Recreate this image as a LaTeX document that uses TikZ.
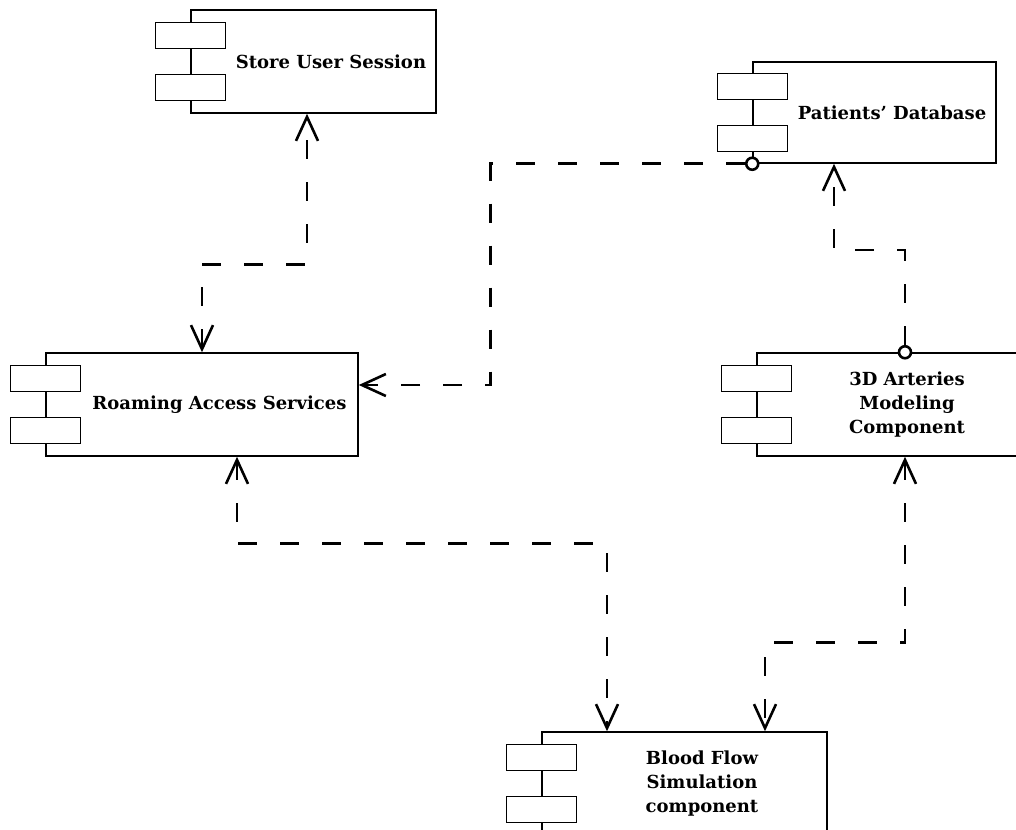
\documentclass[tikz,border=0pt]{standalone}
\usepackage{fontspec}
\setmainfont{DejaVu Serif}
\usepackage{tikz}
\usetikzlibrary{arrows.meta,calc}
\tikzset{comp/.style={draw,line width=1.5pt,fill=white,minimum height=103pt,inner sep=0pt},
tab/.style={draw,line width=1.5pt,fill=white,minimum width=70pt,minimum height=26pt,inner sep=0pt},
port/.style={draw,circle,line width=2.6pt,fill=white,minimum size=12pt,inner sep=0pt},
ctext/.style={font=\bfseries\fontsize{18}{24}\selectfont,align=center}}

\begin{document}
\begin{tikzpicture}[x=1pt,y=-1pt,>={Straight Barb[length=24pt,width=22pt]},dep/.style={dash pattern=on 19pt off 23pt,line width=2.6pt}]
			\useasboundingbox (0,0) rectangle (1016,829);
			\clip (0,0) rectangle (1016,829);

			\node[comp,minimum width=245pt] (store) at (313.5,61.5) {};
			\node[tab] (store t1) at ([yshift=26pt]store.west) {};
			\node[tab] (store t2) at ([yshift=-26pt]store.west) {};
			\node[ctext] (store l) at ([xshift=17.5pt]store.center) {Store User Session};

			\node[comp,minimum width=243pt,minimum height=101pt] (pdb) at (874.5,112.5) {};
			\node[tab] (pdb t1) at ([yshift=26pt]pdb.west) {};
			\node[tab] (pdb t2) at ([yshift=-26pt]pdb.west) {};
			\node[ctext] (pdb l) at ([xshift=17.5pt]pdb.center) {Patients' Database};

			\node[comp,minimum width=312pt] (roam) at (202,404.5) {};
			\node[tab] (roam t1) at ([yshift=26pt]roam.west) {};
			\node[tab] (roam t2) at ([yshift=-26pt]roam.west) {};
			\node[ctext] (roam l) at ([xshift=17.5pt]roam.center) {Roaming Access Services};

			\node[comp,minimum width=265pt] (art) at (889.5,404.5) {};
			\node[tab] (art t1) at ([yshift=26pt]art.west) {};
			\node[tab] (art t2) at ([yshift=-26pt]art.west) {};
			\node[ctext] (art l) at ([xshift=17.5pt]art.center) {3D Arteries\\Modeling\\Component};

			\node[comp,minimum width=285pt] (blood) at (684.5,783.5) {};
			\node[tab] (blood t1) at ([yshift=26pt]blood.west) {};
			\node[tab] (blood t2) at ([yshift=-26pt]blood.west) {};
			\node[ctext] (blood l) at ([xshift=17.5pt]blood.center) {Blood Flow\\Simulation\\component};

			\node[port] (pdbport) at (pdb.south west) {};
			\node[port] (artport) at ([xshift=15.5pt]art.north) {};

			\draw[dep,<->] (roam.north) -- ++(0,-88) -| ([xshift=-6.5pt]store.south);
			\draw[dep,->] (pdbport.west) -| ([xshift=132pt,yshift=19.5pt]roam.east) -- ([yshift=19.5pt]roam.east);
			\draw[dep,->] (artport.north) -- ++(0,-95) -| ([xshift=-40.5pt]pdb.south);
			\draw[dep,<->] ([xshift=35pt]roam.south) -- ++(0,87) -| ([xshift=-77.5pt]blood.north);
			\draw[dep,<->] ([xshift=15.5pt]art.south) -- ++(0,186) -| ([xshift=80.5pt]blood.north);
		\end{tikzpicture}
\end{document}
